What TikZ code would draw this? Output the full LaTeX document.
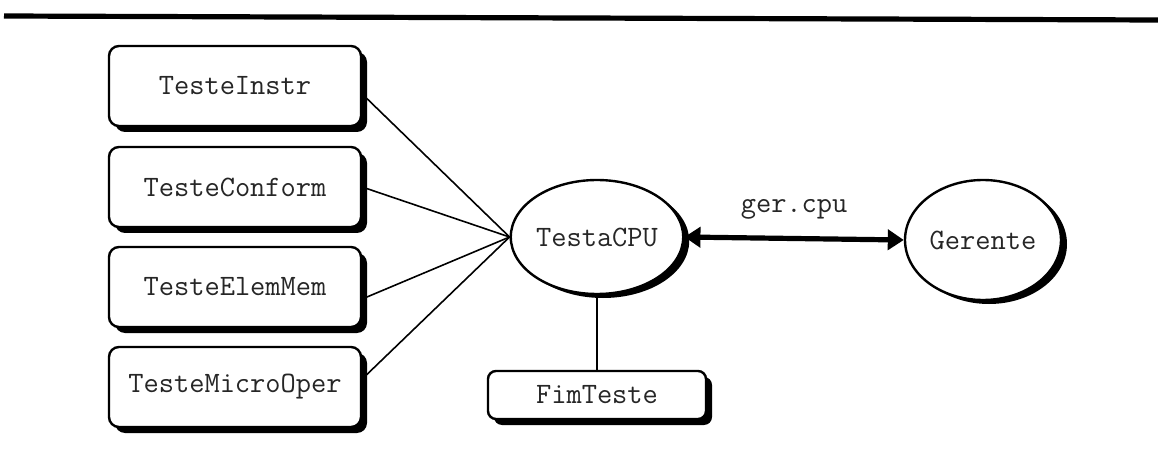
\documentclass[tikz,border=0pt]{standalone}
\usetikzlibrary{shapes.geometric,shadows,arrows.meta}
\tikzset{
  x=0.5pt, y=-0.5pt,
  lbl/.style={font=\ttfamily\fontsize{14.8pt}{17pt}\selectfont, text=black!85},
  shade3/.style={general shadow={shadow xshift=3pt, shadow yshift=-3pt, fill=black}},
  procbox/.style={lbl, draw, line width=1.2pt, rounded corners=5pt, fill=white,
    shade3, minimum width=126pt, minimum height=40pt, inner sep=0pt},
  endbox/.style={lbl, draw, line width=1.2pt, rounded corners=4pt, fill=white,
    shade3, minimum width=109pt, minimum height=24pt, inner sep=0pt},
  proc/.style={lbl, ellipse, draw, line width=1.2pt, fill=white,
    general shadow={shadow xshift=3pt, shadow yshift=-2pt, fill=black},
    minimum width=78pt, minimum height=57pt, inner sep=0pt},
  link/.style={line width=0.8pt},
  chan/.style={line width=2.6pt, {Triangle[length=8pt,width=10pt]}-{Triangle[length=8pt,width=10pt]}}
}
\begin{document}
\begin{tikzpicture}
\useasboundingbox (0,0) rectangle (1158,460);
% rule across the top
\draw[line width=2.6pt] (4,16) -- (1158,20);

% test modules
\node[procbox] (b1) at (235,86) {TesteInstr};
\node[procbox] (b2) at (235,187) {TesteConform};
\node[procbox] (b3) at (235,287) {TesteElemMem};
\node[procbox] (b4) at (235,387) {TesteMicroOper};

% processes
\node[proc] (cpu) at (597,237) {TestaCPU};
\node[proc, minimum width=78pt, minimum height=60pt] (ger) at (983,240) {Gerente};
\node[endbox] (fim) at (597,395) {FimTeste};

% connections
\draw[link] ([yshift=-4pt]b1.east) -- (cpu.west);
\draw[link] (b2.east) -- (cpu.west);
\draw[link] ([yshift=-6pt]b3.east) -- (cpu.west);
\draw[link] ([yshift=4pt]b4.east) -- (cpu.west);
\draw[link] (cpu.south) -- (fim.north);

% channel
\draw[chan] (cpu.east) -- node[lbl, above=5pt] {ger.cpu} (ger.west);
\end{tikzpicture}
\end{document}
